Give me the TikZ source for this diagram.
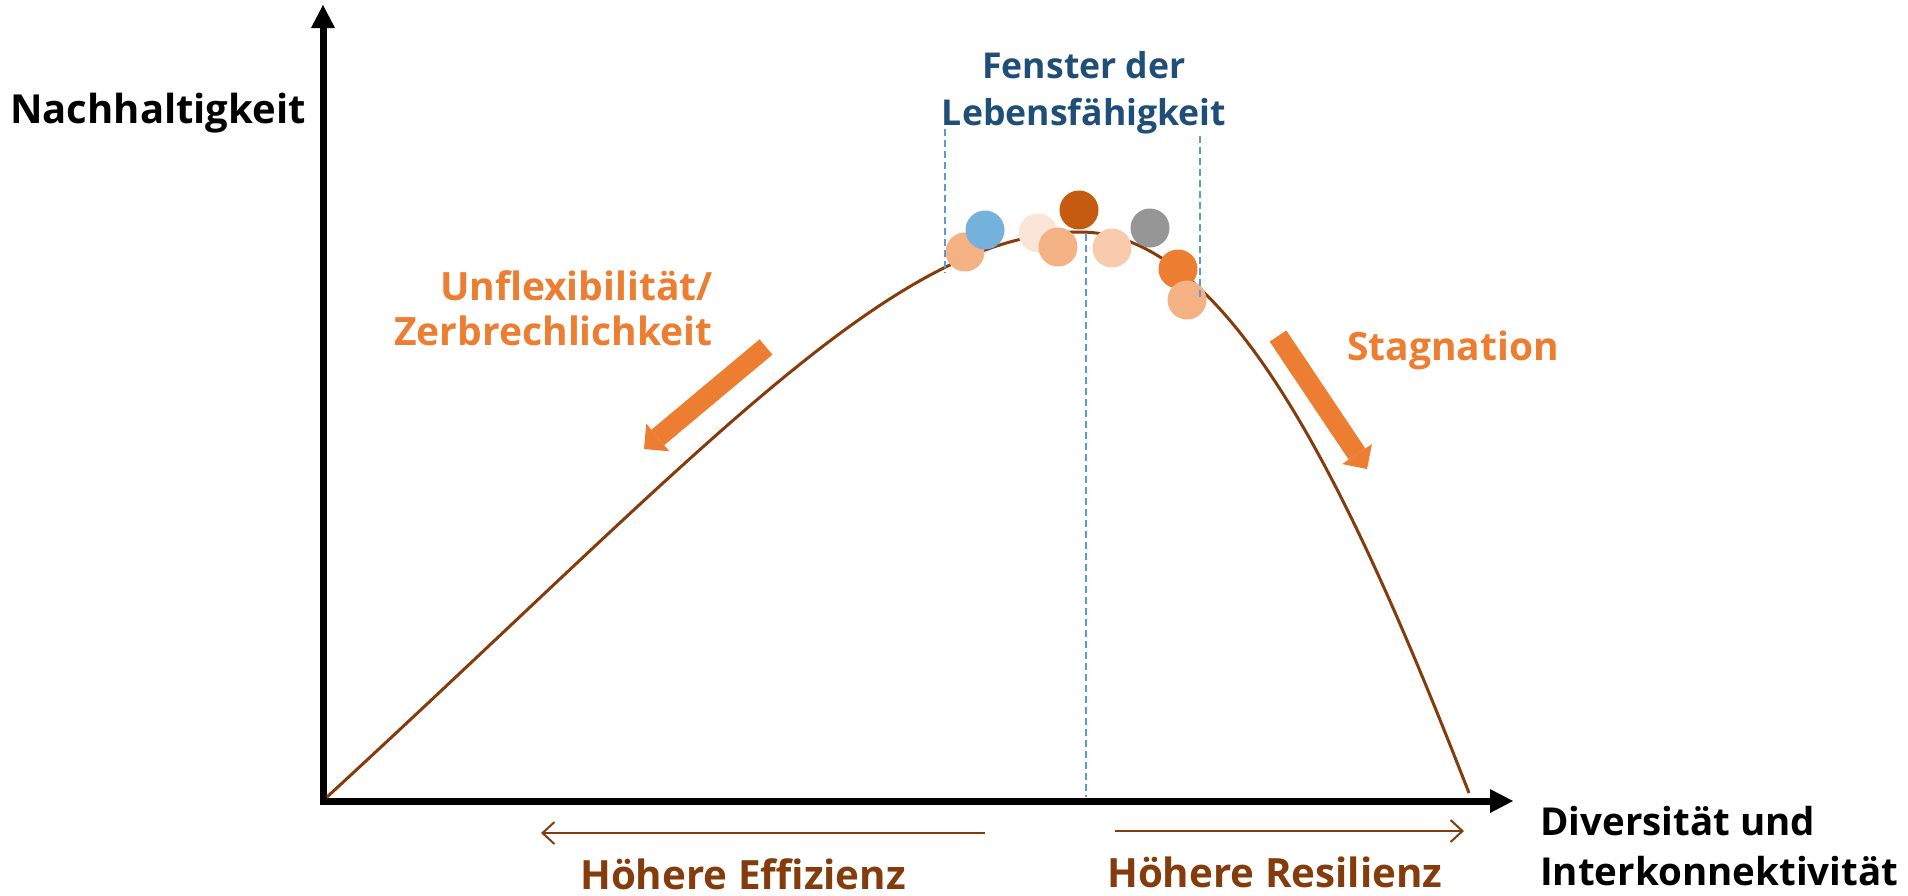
\documentclass[tikz,border=0pt]{standalone}
\usepackage{fontspec}
\setmainfont{Open Sans}
\usetikzlibrary{arrows.meta}

\definecolor{curvebrown}{HTML}{843C0C}
\definecolor{accent}{HTML}{ED7D31}
\definecolor{titleblue}{HTML}{1F4E79}
\definecolor{dashblue}{HTML}{5B9BD5}
\definecolor{peach}{HTML}{F4B183}
\definecolor{skyblue}{HTML}{74B2DC}
\definecolor{paleorange}{HTML}{FBE5D6}
\definecolor{rust}{HTML}{C55A11}
\definecolor{lightpeach}{HTML}{F8CBAD}
\definecolor{midgray}{HTML}{969696}

\tikzset{
  axisline/.style={line width=7pt, -{Triangle[length=23pt,width=24pt,line width=0pt]}},
  curveline/.style={draw=curvebrown, line width=3pt},
  windowline/.style={draw=dashblue, line width=2pt, dash pattern=on 7pt off 4pt},
  trendarrow/.style={draw=accent, line width=20pt, -{Triangle[length=18pt,width=36pt,line width=0pt]}},
  gainarrow/.style={draw=curvebrown, line width=2pt, -{Straight Barb[length=12pt,width=22pt]}},
  dot/.style={circle, minimum size=39pt, inner sep=0pt},
  ytext/.style={inner sep=0pt, text=black, font={\fontsize{40}{50}\selectfont\bfseries}},
  xtext/.style={inner sep=0pt, text=black, font={\fontsize{38.5}{50}\selectfont\bfseries}},
  windowtext/.style={inner sep=0pt, text=titleblue, font={\fontsize{35.6}{47}\selectfont\bfseries}},
  warntext/.style={inner sep=0pt, text=accent, font={\fontsize{39}{45}\selectfont\bfseries}},
  gaintext/.style={inner sep=0pt, text=curvebrown, font={\fontsize{40.3}{46}\selectfont\bfseries}},
}

\begin{document}
\begin{tikzpicture}[x=1pt, y=-1pt]
\useasboundingbox[fill=white] (0,0) rectangle (1908,895);

% axes
\coordinate (origin) at (323,801);
\coordinate (ybottom) at (323,805);
\coordinate (ytip) at (323,5);
\coordinate (xleft) at (319.5,801);
\coordinate (xtip) at (1513,801);
\draw[axisline] (ybottom) -- (ytip);
\draw[axisline] (xleft) -- (xtip);

% viability curve
\coordinate (cstart) at (327,797);
\coordinate (cpeak) at (1080,232);
\coordinate (cend) at (1469,793);
\draw[curveline] (cstart) .. controls (707,447) and (895,232) .. (cpeak)
                 .. controls (1230,232) and (1352,493) .. (cend);

% systems near the peak
\node[dot, fill=peach]      (s1) at (965,252) {};
\node[dot, fill=skyblue]    (s2) at (985,230) {};
\node[dot, fill=paleorange] (s3) at (1038,233) {};
\node[dot, fill=peach]      (s4) at (1058,247) {};
\node[dot, fill=rust]       (s5) at (1079,210) {};
\node[dot, fill=lightpeach] (s6) at (1112,248) {};
\node[dot, fill=midgray]    (s7) at (1150,228) {};
\node[dot, fill=accent]     (s8) at (1178,269) {};
\node[dot, fill=peach]      (s9) at (1187,300) {};

% window of viability
\coordinate (wlTop) at (945,129);
\coordinate (wlBot) at (945,273);
\coordinate (wrTop) at (1200,136);
\coordinate (wrBot) at (1200,298);
\coordinate (wcTop) at (1086,234);
\coordinate (wcBot) at (1086,797);
\draw[windowline] (wlTop) -- (wlBot);
\draw[windowline] (wrTop) -- (wrBot);
\draw[windowline] (wcTop) -- (wcBot);

% trend arrows
\coordinate (lTail) at (766,347);
\coordinate (lTip) at (644,449);
\coordinate (rTail) at (1278,336);
\coordinate (rTip) at (1367,469);
\draw[trendarrow] (lTail) -- (lTip);
\draw[trendarrow] (rTail) -- (rTip);

% efficiency / resilience arrows
\coordinate (eStart) at (985,833);
\coordinate (eEnd) at (541,833);
\coordinate (rStart) at (1115,831);
\coordinate (rEnd) at (1464,831);
\draw[gainarrow] (eStart) -- (eEnd);
\draw[gainarrow] (rStart) -- (rEnd);

% labels (multi-line nodes are placed by the baseline of their last line)
\node[ytext, anchor=base west] (ylabel) at (10,123) {Nachhaltigkeit};
\node[xtext, align=left, anchor=base west] (xlabel) at (1540,885) {Diversität und\\Interkonnektivität};
\node[windowtext, align=center, anchor=base] (window) at (1084,125) {Fenster der\\Lebensfähigkeit};
\node[warntext, align=right, anchor=base east] (fragile) at (713,345) {Unflexibilität/\\Zerbrechlichkeit};
\node[warntext, anchor=base west] (stagnation) at (1347,360) {Stagnation};
\node[gaintext, anchor=base west] (efficiency) at (580,889) {Höhere Effizienz};
\node[gaintext, anchor=base west] (resilience) at (1107,887) {Höhere Resilienz};
\end{tikzpicture}
\end{document}
